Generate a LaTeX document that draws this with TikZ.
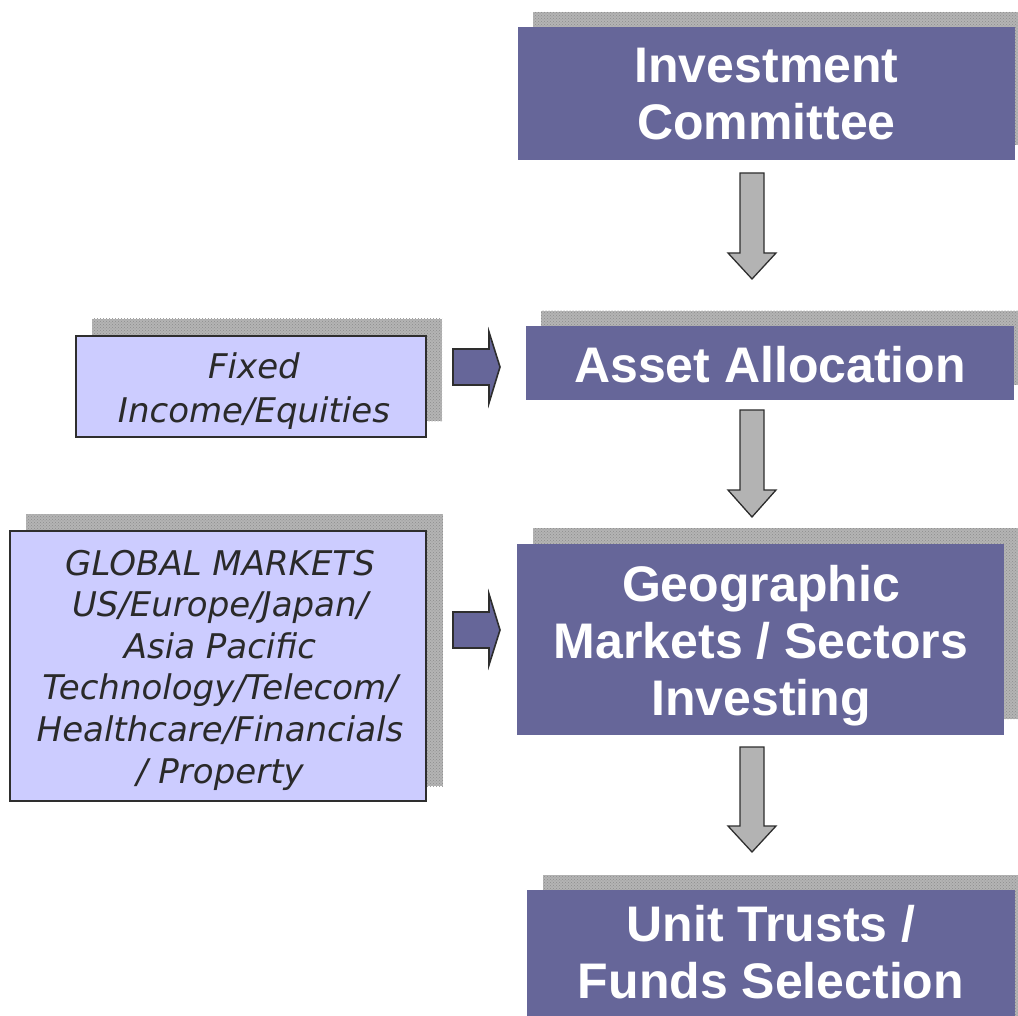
\documentclass[tikz,border=0pt]{standalone}
\usepackage{fontspec}
\setmainfont{Liberation Sans}
\newfontfamily\verd{DejaVu Sans}
\usetikzlibrary{patterns}
\definecolor{boxpurple}{HTML}{666699}
\definecolor{lavender}{HTML}{CCCCFF}
\definecolor{shadowgray}{HTML}{B4B4B4}
\definecolor{shadowdark}{HTML}{8C8C8C}
\definecolor{arrowgray}{HTML}{B3B3B3}
\definecolor{edgedark}{HTML}{2E2E2E}
\definecolor{textdark}{HTML}{2A2A2A}
\tikzset{
  shadowfill/.style={fill=shadowgray, postaction={pattern=crosshatch dots, pattern color=shadowdark}},
  mainbox/.style={rectangle, fill=boxpurple, draw=none, inner sep=0pt},
  maintext/.style={text=white, align=center, inner sep=0pt, font=\bfseries\fontsize{50}{57}\selectfont},
  sidebox/.style={rectangle, fill=lavender, draw=edgedark, line width=1.6pt, inner sep=0pt},
  sidetext/.style={text=textdark, align=center, inner sep=0pt, font=\verd\itshape\fontsize{34}{41.6}\selectfont},
  downarr/.style={fill=arrowgray, draw=edgedark, line width=1.3pt, line join=miter},
  rightarr/.style={fill=boxpurple, draw=edgedark, line width=1.6pt, line join=miter},
}
\begin{document}
\begin{tikzpicture}[x=1pt, y=-1pt]
\useasboundingbox (0,0) rectangle (1018,1016);
\clip (0,0) rectangle (1018,1016);
% shadows
\path[shadowfill] (533,12) rectangle (1030,145);
\path[shadowfill] (541,311) rectangle (1029,385);
\path[shadowfill] (533,528) rectangle (1020,719);
\path[shadowfill] (543,875) rectangle (1030,1030);
\path[shadowfill] (92,319) rectangle (442,421);
\path[shadowfill] (26,514) rectangle (443,786);
% main boxes
\node[mainbox, minimum width=497, minimum height=133] (ic) at (766.5,93.5) {};
\node[maintext, anchor=base] (ictext) at (766.5,140) {Investment\\Committee};
\node[mainbox, minimum width=488, minimum height=74] (aa) at (770,363) {};
\node[maintext, anchor=base] (aatext) at (770,383) {Asset Allocation};
\node[mainbox, minimum width=487, minimum height=191] (gm) at (760.5,639.5) {};
\node[maintext, anchor=base] (gmtext) at (761,715) {Geographic\\Markets / Sectors\\Investing};
\node[mainbox, minimum width=488, minimum height=150] (ut) at (771,965) {};
\node[maintext, anchor=base] (uttext) at (771,998) {Unit Trusts /\\Funds Selection};
% side boxes
\node[sidebox, minimum width=350, minimum height=101] (fi) at (251,386.5) {};
\node[sidetext, anchor=base, font=\verd\itshape\fontsize{34}{44}\selectfont] (fitext) at (254,422) {Fixed\\Income/Equities};
\node[sidebox, minimum width=416, minimum height=270] (gl) at (218,666) {};
\node[sidetext, anchor=base] (gltext) at (220,783) {GLOBAL MARKETS\\US/Europe/Japan/\\Asia Pacific\\Technology/Telecom/\\Healthcare/Financials\\/ Property};
% down arrows
\draw[downarr] (740,173) -- (764,173) -- (764,253) -- (776,253) -- (752,279) -- (728,253) -- (740,253) -- cycle;
\draw[downarr] (740,410) -- (764,410) -- (764,490) -- (776,490) -- (752,517) -- (728,490) -- (740,490) -- cycle;
\draw[downarr] (740,747) -- (764,747) -- (764,826) -- (776,826) -- (752,852) -- (728,826) -- (740,826) -- cycle;
% right arrows
\draw[rightarr] (453,349) -- (489,349) -- (489,332) -- (500,367) -- (489,403) -- (489,385) -- (453,385) -- cycle;
\draw[rightarr] (453,612) -- (489,612) -- (489,594) -- (500,630) -- (489,665) -- (489,648) -- (453,648) -- cycle;
\end{tikzpicture}
\end{document}
